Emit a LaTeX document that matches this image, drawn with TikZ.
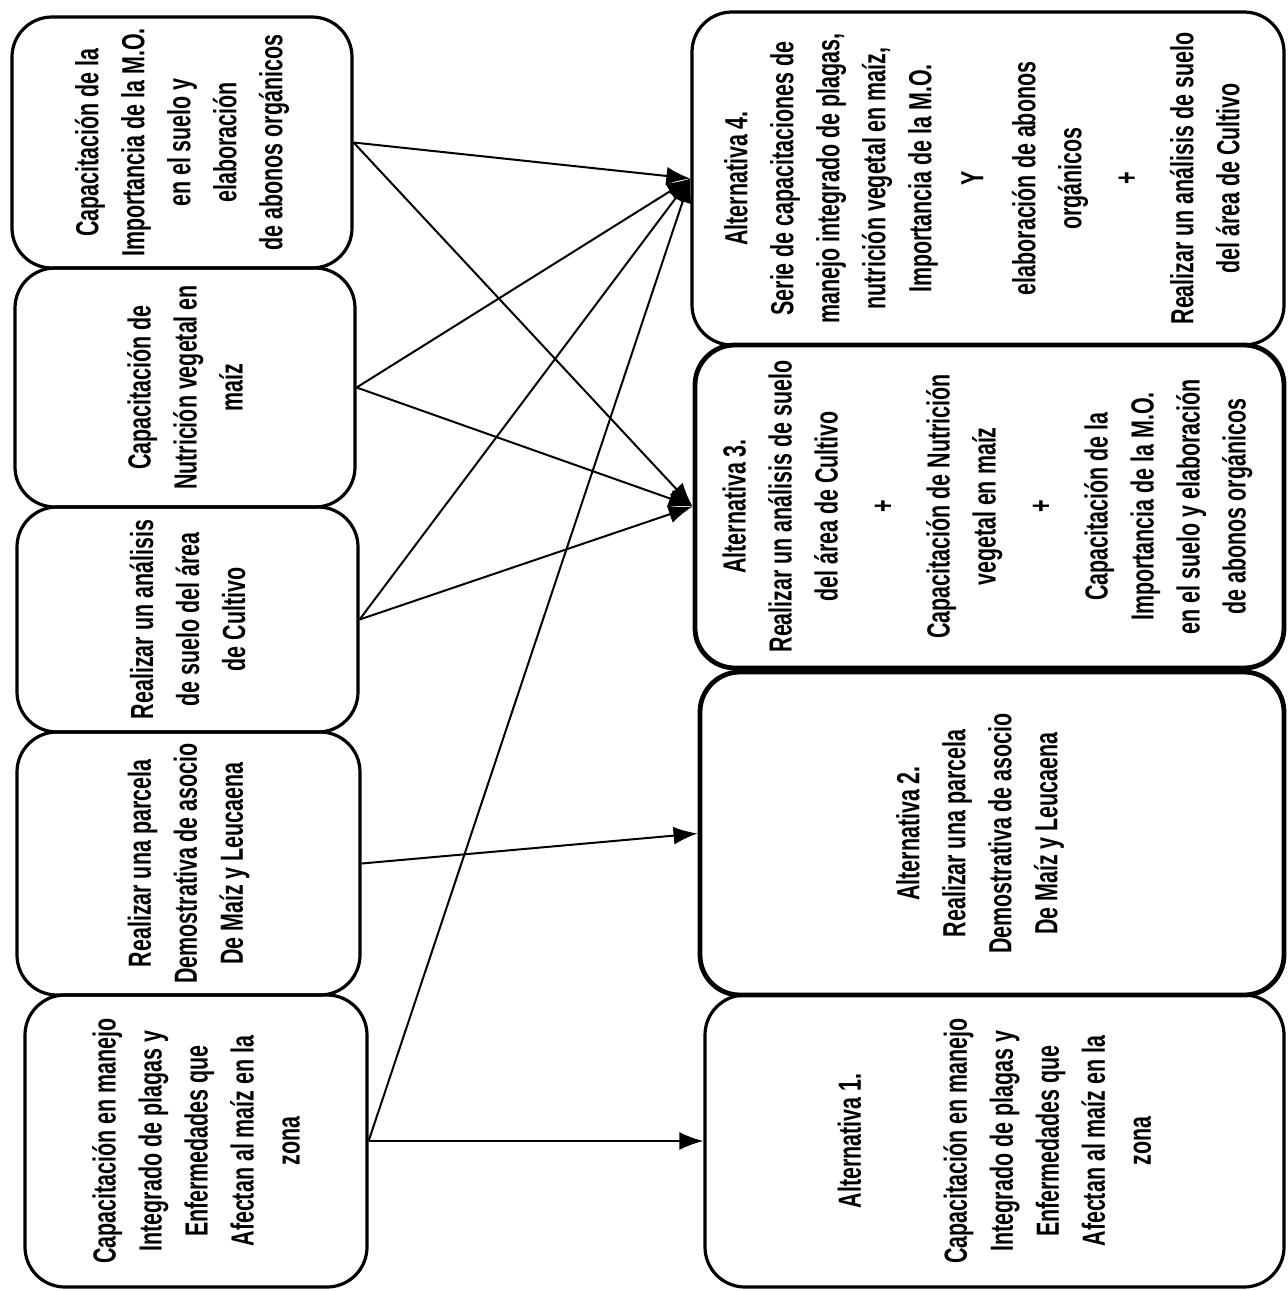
\documentclass[tikz,border=0pt]{standalone}
\usepackage{fontspec}
\setmainfont{Liberation Sans}[FakeStretch=0.67]
\usetikzlibrary{fit,arrows.meta}
\begin{document}
\begin{tikzpicture}[x=0.5pt,y=-0.5pt,
  box/.style={draw, line width=1.6pt, rounded corners=20pt, inner sep=0pt},
  heavybox/.style={box, line width=2.4pt},
  txt/.style={rotate=90, align=center, inner sep=0pt,
    font=\fontsize{16}{23}\selectfont\bfseries},
  link/.style={line width=1pt, -{Latex[length=12pt,width=9pt]}}]
\useasboundingbox (0,0) rectangle (1288,1291);
\fill[white] (0,0) rectangle (1288,1291);

% activities (left column)
\node[box, fit={(12,17) (352,268)}] (L1) {};
\node[box, fit={(15,268) (355,507)}] (L2) {};
\node[box, fit={(17,507) (358,732)}] (L3) {};
\node[box, fit={(17,732) (360,995)}] (L4) {};
\node[box, fit={(25,995) (367,1287)}] (L5) {};

% alternatives (right column)
\node[box, fit={(692,12) (1284,345)}] (R4) {};
\node[heavybox, fit={(695,345) (1284,668)}] (R3) {};
\node[heavybox, fit={(700,672) (1284,995)}] (R2) {};
\node[box, fit={(705,995) (1284,1287)}] (R1) {};

\node[txt] (tL1) at (L1.center) {Capacitación de la\\Importancia de la M.O.\\en el suelo y\\elaboración\\de abonos orgánicos};
\node[txt] (tL2) at (L2.center) {Capacitación de\\Nutrición vegetal en\\maíz};
\node[txt] (tL3) at (L3.center) {Realizar un análisis\\de suelo del área\\de Cultivo};
\node[txt] (tL4) at (L4.center) {Realizar una parcela\\Demostrativa de asocio\\De Maíz y Leucaena};
\node[txt] (tL5) at (L5.center) {Capacitación en manejo\\Integrado de plagas y\\Enfermedades que\\Afectan al maíz en la\\zona};

\node[txt] (tR4) at ([xshift=-3pt]R4.center) {Alternativa 4.\\Serie de capacitaciones de\\manejo integrado de plagas,\\nutrición vegetal en maíz,\\Importancia de la M.O.\\[3pt]Y\\[3pt]elaboración de abonos\\orgánicos\\[5pt]+\\[5pt]Realizar un análisis de suelo\\del área de Cultivo};
\node[txt] (tR3) at ([xshift=-1pt]R3.center) {Alternativa 3.\\Realizar un análisis de suelo\\del área de Cultivo\\[5pt]+\\[5pt]Capacitación de Nutrición\\vegetal en maíz\\[5pt]+\\[5pt]Capacitación de la\\Importancia de la M.O.\\en el suelo y elaboración\\de abonos orgánicos};
\node[txt] (tR2) at ([xshift=-6pt]R2.center) {Alternativa 2.\\Realizar una parcela\\Demostrativa de asocio\\De Maíz y Leucaena};
\node[txt] (tR1) at (R1.center) {Alternativa 1.\\[30pt]Capacitación en manejo\\Integrado de plagas y\\Enfermedades que\\Afectan al maíz en la\\zona};

% connectors
\draw[link] (L1.east) -- (R4.west);
\draw[link] (L1.east) -- (R3.west);
\draw[link] (L2.east) -- (R4.west);
\draw[link] (L2.east) -- (R3.west);
\draw[link] (L3.east) -- (R4.west);
\draw[link] (L3.east) -- (R3.west);
\draw[link] (L4.east) -- (R2.west);
\draw[link] (L5.east) -- (R4.west);
\draw[link] (L5.east) -- (R1.west);
\end{tikzpicture}
\end{document}
